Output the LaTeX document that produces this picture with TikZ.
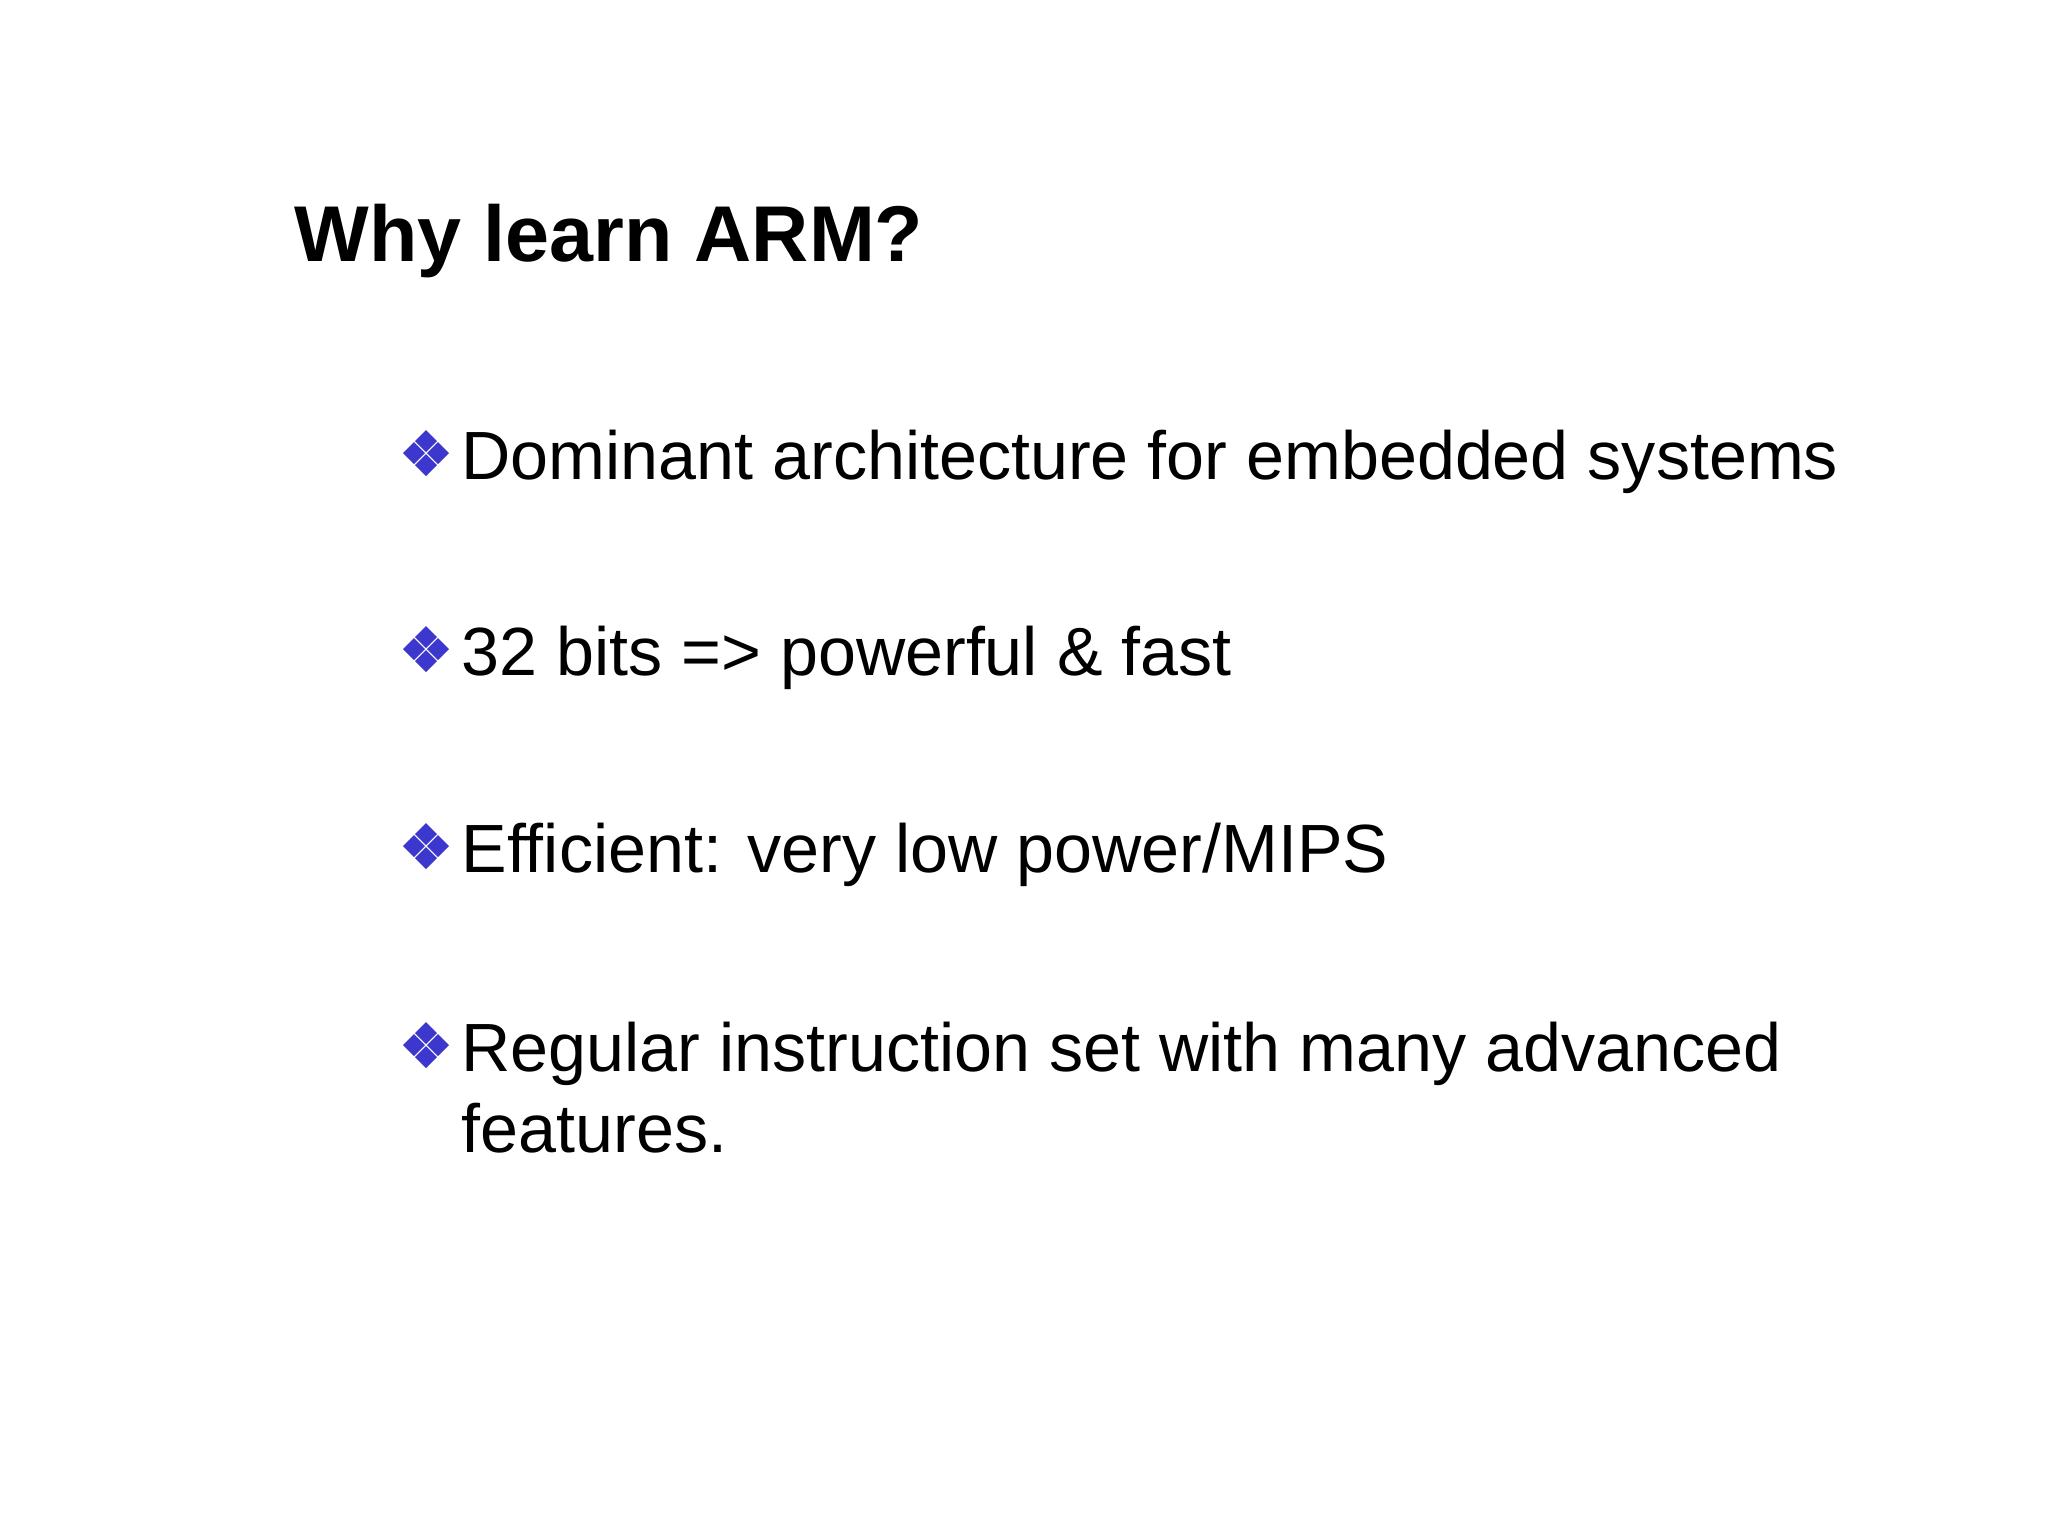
\documentclass[tikz,border=0pt]{standalone}
\usepackage{fontspec}
\setmainfont{Liberation Sans}
\definecolor{bul}{RGB}{60,55,205}
\begin{document}
\begin{tikzpicture}[x=0.01cm,y=-0.01cm,
  txt/.style={anchor=base west,inner sep=0pt,font=\fontsize{19.4}{23}\selectfont},
  dia/.style={fill=bul}]
\useasboundingbox (0,0) rectangle (2048,1536);
\node[anchor=base west,inner sep=0pt,font=\fontsize{22.5}{27}\selectfont\bfseries] (title) at (294,261) {Why learn ARM?};
\foreach \y/\t [count=\i] in {479/{Dominant architecture for embedded systems},675/{32 bits => powerful \& fast},872/{Efficient: very low power/MIPS},1071/{Regular instruction set with many advanced}}{
  \node[txt] (b\i) at (461,\y) {\t};
  \foreach \dx/\dy in {0/-12,-12/0,12/0,0/12}
    \fill[dia] (426+\dx,\y-26+\dy) +(0,-11) -- +(11,0) -- +(0,11) -- +(-11,0) -- cycle;
}
\node[txt] (b5) at (461,1152) {features.};
\end{tikzpicture}
\end{document}
